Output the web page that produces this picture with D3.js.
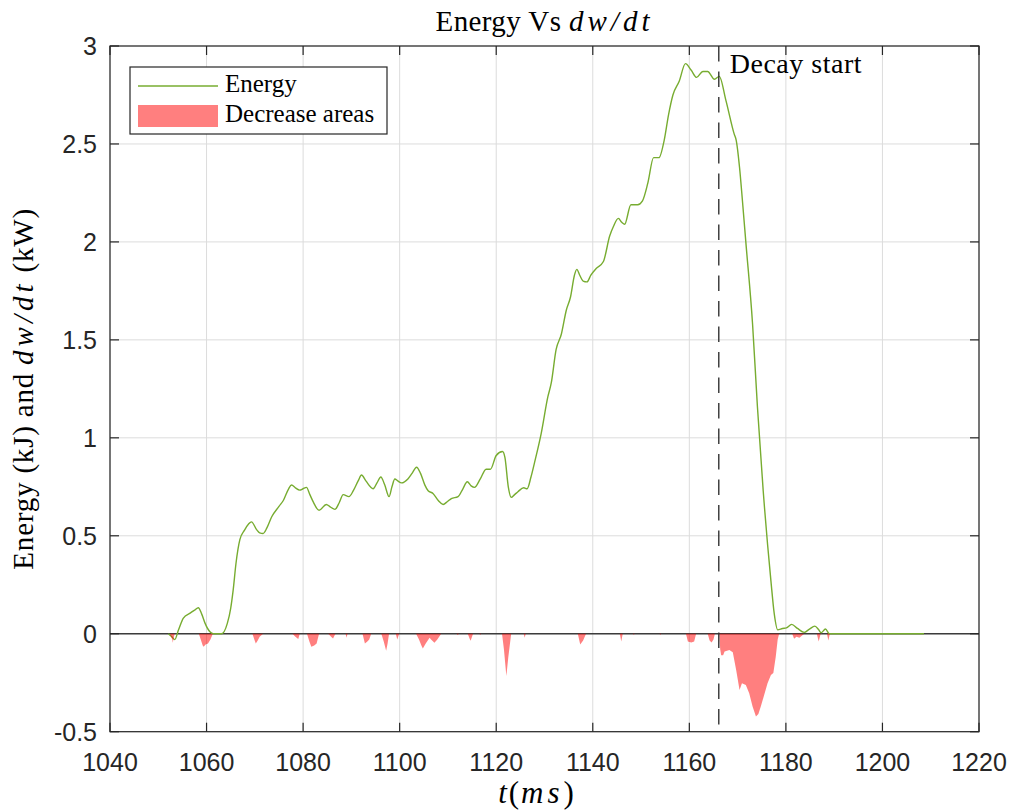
<!DOCTYPE html>
<html>
<head>
<meta charset="utf-8">
<script src="https://cdn.jsdelivr.net/npm/d3@7"></script>
<style>
body { margin: 0; background: #fff; }
svg { display: block; }
</style>
</head>
<body>
<div class="visHolder"></div>
<script>
// energy curve samples (ms, kJ)
var energyT = [1052.1, 1052.8, 1053.4, 1054.2, 1055.2, 1056.6, 1057.5, 1058.3, 1059.0, 1059.7, 1060.7, 1061.4, 1063.1, 1064.3, 1065.0, 1065.5, 1066.1, 1066.9, 1067.9, 1068.7, 1069.3, 1070.4, 1071.0, 1071.7, 1072.5, 1073.5, 1075.0, 1075.9, 1077.0, 1077.6, 1078.4, 1079.3, 1080.0, 1080.7, 1081.4, 1082.1, 1083.3, 1084.8, 1085.6, 1086.6, 1087.5, 1088.3, 1089.5, 1090.4, 1091.4, 1092.1, 1093.0, 1094.5, 1095.3, 1096.1, 1096.9, 1097.8, 1098.4, 1099.0, 1099.6, 1100.4, 1101.7, 1102.6, 1103.5, 1104.3, 1105.2, 1105.9, 1106.9, 1108.0, 1109.0, 1109.9, 1110.7, 1112.1, 1113.1, 1114.0, 1114.8, 1115.5, 1116.7, 1117.9, 1118.8, 1120.0, 1121.3, 1121.8, 1122.5, 1123.1, 1123.8, 1124.5, 1125.7, 1126.4, 1127.2, 1127.9, 1129.3, 1130.7, 1131.4, 1132.4, 1133.5, 1134.5, 1135.4, 1136.2, 1136.7, 1137.3, 1138.0, 1138.8, 1139.6, 1140.7, 1142.2, 1143.5, 1144.3, 1145.3, 1146.0, 1146.6, 1147.9, 1149.3, 1150.3, 1151.4, 1152.6, 1153.7, 1154.8, 1155.7, 1156.6, 1157.9, 1159.2, 1160.4, 1161.5, 1162.8, 1163.8, 1165.2, 1166.2, 1167.6, 1169.3, 1169.7, 1170.4, 1171.0, 1171.7, 1173.1, 1174.1, 1175.3, 1176.9, 1177.6, 1178.3, 1179.3, 1180.1, 1181.2, 1182.4, 1183.8, 1184.8, 1186.0, 1186.8, 1187.3, 1188.2, 1189.0, 1208.6]
var energyV = [0, -0.015, -0.03, 0.02, 0.08, 0.105, 0.12, 0.133, 0.10, 0.053, 0.01, 0, 0, 0.053, 0.13, 0.22, 0.36, 0.48, 0.53, 0.56, 0.571, 0.53, 0.515, 0.512, 0.54, 0.597, 0.65, 0.68, 0.74, 0.759, 0.745, 0.733, 0.74, 0.747, 0.71, 0.673, 0.63, 0.66, 0.648, 0.635, 0.67, 0.71, 0.70, 0.73, 0.78, 0.81, 0.78, 0.74, 0.77, 0.80, 0.76, 0.70, 0.75, 0.79, 0.78, 0.77, 0.79, 0.82, 0.85, 0.82, 0.76, 0.73, 0.716, 0.68, 0.66, 0.675, 0.69, 0.70, 0.74, 0.776, 0.755, 0.747, 0.79, 0.84, 0.84, 0.91, 0.93, 0.90, 0.75, 0.696, 0.71, 0.725, 0.745, 0.74, 0.80, 0.87, 1.02, 1.21, 1.28, 1.45, 1.53, 1.65, 1.72, 1.83, 1.86, 1.83, 1.80, 1.796, 1.83, 1.864, 1.90, 2.03, 2.08, 2.12, 2.10, 2.09, 2.19, 2.19, 2.21, 2.30, 2.43, 2.43, 2.52, 2.65, 2.75, 2.82, 2.91, 2.876, 2.84, 2.87, 2.87, 2.83, 2.845, 2.72, 2.55, 2.52, 2.38, 2.21, 2.0, 1.58, 1.16, 0.73, 0.27, 0.10, 0.02, 0.027, 0.03, 0.048, 0.027, 0.007, 0.022, 0.039, 0.02, 0.005, 0.024, 0, 0]

// negative dw/dt (decrease areas), kW
var decT = [1052.4, 1052.9, 1053.0, 1053.2, 1053.4,
  1058.4, 1058.8, 1059.2, 1059.4, 1059.8, 1060.3, 1060.8, 1061.3,
  1069.5, 1069.9, 1070.2, 1070.6, 1071.0, 1071.7,
  1077.8, 1078.4, 1079.0, 1079.3,
  1080.8, 1081.3, 1081.7, 1082.3, 1082.8, 1083.3,
  1085.2, 1085.8, 1086.2, 1086.7,
  1088.8, 1089.0, 1089.2,
  1092.3, 1092.8, 1093.3, 1093.7, 1094.1,
  1096.2, 1096.7, 1097.2, 1097.5, 1097.8,
  1099.2, 1099.5, 1099.9,
  1103.4, 1104.0, 1104.5, 1104.8, 1105.4, 1106.2, 1106.5, 1107.2, 1107.8, 1108.6,
  1111.8, 1112.0, 1112.3,
  1114.1, 1114.5, 1114.7, 1115.2,
  1116.5, 1116.7, 1116.9,
  1121.2, 1121.6, 1122.1, 1122.5, 1123.1,
  1125.7, 1125.9, 1126.1,
  1136.9, 1137.4, 1138.0, 1138.6,
  1145.6, 1145.9, 1146.2,
  1148.3, 1148.5, 1148.7,
  1153.8, 1154.0, 1154.2,
  1159.3, 1159.7, 1160.4, 1161.0, 1161.4,
  1163.8, 1164.2, 1164.6, 1165.0, 1165.3,
  1166.2, 1166.4, 1166.6, 1167.0, 1167.3, 1168.3, 1169.0, 1169.7, 1170.4, 1170.9, 1171.7, 1172.4, 1173.1, 1173.8, 1174.3, 1174.8, 1175.5, 1176.2, 1176.9, 1177.4, 1177.9, 1178.3, 1178.6,
  1181.3, 1181.7, 1182.2, 1182.8, 1183.3, 1183.8,
  1186.4, 1186.8, 1187.2,
  1188.5, 1188.8, 1189.1]
var decV = [0, -0.03, -0.046, -0.02, 0,
  0, -0.03, -0.06, -0.066, -0.055, -0.05, -0.03, 0,
  0, -0.03, -0.05, -0.035, -0.015, 0,
  0, -0.015, -0.027, 0,
  0, -0.04, -0.066, -0.06, -0.05, 0,
  0, -0.015, -0.024, 0,
  0, -0.02, 0,
  0, -0.05, -0.04, -0.03, 0,
  0, -0.04, -0.087, -0.05, 0,
  0, -0.03, 0,
  0, -0.03, -0.06, -0.075, -0.05, -0.02, -0.03, -0.046, -0.03, 0,
  0, -0.006, 0,
  0, -0.025, -0.036, 0,
  0, -0.005, 0,
  0, -0.08, -0.216, -0.12, 0,
  0, -0.02, 0,
  0, -0.055, -0.035, 0,
  0, -0.04, 0,
  0, -0.005, 0,
  0, -0.005, 0,
  0, -0.04, -0.045, -0.04, 0,
  0, -0.035, -0.045, -0.03, 0,
  0, -0.08, -0.11, -0.11, -0.09, -0.083, -0.095, -0.185, -0.287, -0.253, -0.262, -0.304, -0.372, -0.423, -0.41, -0.372, -0.313, -0.253, -0.21, -0.2, -0.117, -0.03, 0,
  0, -0.025, -0.015, -0.02, -0.01, 0,
  0, -0.04, 0,
  0, -0.035, 0]

var xTicks = [1040, 1060, 1080, 1100, 1120, 1140, 1160, 1180, 1200, 1220]
var yTicks = [-0.5, 0, 0.5, 1, 1.5, 2, 2.5, 3]
var yTickLabels = ["-0.5", "0", "0.5", "1", "1.5", "2", "2.5", "3"]
var decayStart = 1166.1

var W = 1013, H = 812
var mLeft = 110, mTop = 46, mRight = 979, mBottom = 731.7
var axisColor = "#262626"
var energyColor = "#77ac30"
var serif = "'Liberation Serif', 'Times New Roman', serif"
var sans = "'Liberation Sans', Arial, Helvetica, sans-serif"

var svg = d3.select(".visHolder").append("svg")
    .attr("width", W)
    .attr("height", H)

var xScale = d3.scaleLinear().domain([1040, 1220]).range([mLeft, mRight])
var yScale = d3.scaleLinear().domain([-0.5, 3]).range([mBottom, mTop])

// grid
svg.append("g").selectAll("line").data(xTicks).enter().append("line")
    .attr("x1", d => xScale(d)).attr("x2", d => xScale(d))
    .attr("y1", mTop).attr("y2", mBottom)
    .attr("stroke", "#dcdcdc").attr("stroke-width", 1)
svg.append("g").selectAll("line").data(yTicks).enter().append("line")
    .attr("x1", mLeft).attr("x2", mRight)
    .attr("y1", d => yScale(d)).attr("y2", d => yScale(d))
    .attr("stroke", "#dcdcdc").attr("stroke-width", 1)

// zero line
svg.append("line")
    .attr("x1", mLeft).attr("x2", mRight)
    .attr("y1", yScale(0)).attr("y2", yScale(0))
    .attr("stroke", "#3c3c3c").attr("stroke-width", 1.6)

var energyData = energyT.map((t, i) => [t, energyV[i]])
var line = d3.line()
    .x(d => xScale(d[0]))
    .y(d => yScale(d[1]))
    .curve(d3.curveMonotoneX)
svg.append("path")
    .datum(energyData)
    .attr("d", line)
    .attr("fill", "none")
    .attr("stroke", energyColor)
    .attr("stroke-width", 1.4)

var decData = decT.map((t, i) => [t, decV[i]])
var area = d3.area()
    .x(d => xScale(d[0]))
    .y0(yScale(0))
    .y1(d => yScale(d[1]))
svg.append("path")
    .datum(decData)
    .attr("d", area)
    .attr("fill", "#ff0000")
    .attr("fill-opacity", 0.5)
    .attr("stroke", "none")

// decay start marker
svg.append("line")
    .attr("x1", xScale(decayStart)).attr("x2", xScale(decayStart))
    .attr("y1", mTop).attr("y2", mBottom)
    .attr("stroke", "#333")
    .attr("stroke-width", 1.4)
    .attr("stroke-dasharray", "15.5,10")
svg.append("text")
    .attr("x", xScale(decayStart) + 11)
    .attr("y", 73)
    .style("font-family", serif)
    .style("font-size", "28px")
    .style("letter-spacing", "0.5px")
    .attr("fill", "#000")
    .text("Decay start")

// axes box with inward ticks on all sides
svg.append("rect")
    .attr("x", mLeft).attr("y", mTop)
    .attr("width", mRight - mLeft).attr("height", mBottom - mTop)
    .attr("fill", "none").attr("stroke", axisColor).attr("stroke-width", 1.2)

var tickLen = 9
var ticks = svg.append("g").attr("stroke", axisColor).attr("stroke-width", 1.2)
xTicks.forEach(function(d) {
    ticks.append("line").attr("x1", xScale(d)).attr("x2", xScale(d)).attr("y1", mBottom).attr("y2", mBottom - tickLen)
    ticks.append("line").attr("x1", xScale(d)).attr("x2", xScale(d)).attr("y1", mTop).attr("y2", mTop + tickLen)
})
yTicks.forEach(function(d) {
    ticks.append("line").attr("x1", mLeft).attr("x2", mLeft + tickLen).attr("y1", yScale(d)).attr("y2", yScale(d))
    ticks.append("line").attr("x1", mRight).attr("x2", mRight - tickLen).attr("y1", yScale(d)).attr("y2", yScale(d))
})

svg.append("g").selectAll("text").data(xTicks).enter().append("text")
    .attr("x", d => xScale(d))
    .attr("y", mBottom + 39)
    .attr("text-anchor", "middle")
    .style("font-family", sans)
    .style("font-size", "25px")
    .attr("fill", axisColor)
    .text(d => d)

svg.append("g").selectAll("text").data(yTicks).enter().append("text")
    .attr("x", mLeft - 13)
    .attr("y", d => yScale(d))
    .attr("dy", "0.36em")
    .attr("text-anchor", "end")
    .style("font-family", sans)
    .style("font-size", "25px")
    .attr("fill", axisColor)
    .text((d, i) => yTickLabels[i])

// title and labels
var title = svg.append("text")
    .attr("x", (mLeft + mRight) / 2)
    .attr("y", 31)
    .attr("text-anchor", "middle")
    .style("font-family", serif)
    .style("font-size", "29px")
    .style("letter-spacing", "0.4px")
    .attr("fill", "#000")
title.append("tspan").text("Energy Vs ")
title.append("tspan").style("font-style", "italic").style("letter-spacing", "4px").text("dw/dt")

var xLabel = svg.append("text")
    .attr("x", 536)
    .attr("y", 803)
    .attr("text-anchor", "middle")
    .style("font-family", serif)
    .style("font-size", "31px")
    .attr("fill", "#000")
xLabel.append("tspan").style("font-style", "italic").style("letter-spacing", "2px").text("t")
xLabel.append("tspan").style("letter-spacing", "2px").text("(")
xLabel.append("tspan").style("font-style", "italic").style("letter-spacing", "4px").text("ms")
xLabel.append("tspan").text(")")

var yLabel = svg.append("text")
    .attr("transform", "translate(33," + ((mTop + mBottom) / 2) + ") rotate(-90)")
    .attr("text-anchor", "middle")
    .style("font-family", serif)
    .style("font-size", "29px")
    .style("letter-spacing", "0.8px")
    .attr("fill", "#000")
yLabel.append("tspan").text("Energy (kJ) and ")
yLabel.append("tspan").style("font-style", "italic").style("letter-spacing", "4px").text("dw/dt")
yLabel.append("tspan").text(" (kW)")

// legend
var legend = svg.append("g")
legend.append("rect")
    .attr("x", 130).attr("y", 67)
    .attr("width", 257).attr("height", 67)
    .attr("fill", "#fff").attr("stroke", axisColor).attr("stroke-width", 1.2)
legend.append("line")
    .attr("x1", 138).attr("x2", 218).attr("y1", 86).attr("y2", 86)
    .attr("stroke", energyColor).attr("stroke-width", 1.4)
legend.append("rect")
    .attr("x", 138).attr("y", 105).attr("width", 80).attr("height", 22)
    .attr("fill", "#ff0000").attr("fill-opacity", 0.5)
legend.append("text")
    .attr("x", 225).attr("y", 92)
    .style("font-family", serif).style("font-size", "25px")
    .attr("fill", "#000")
    .text("Energy")
legend.append("text")
    .attr("x", 225).attr("y", 122)
    .style("font-family", serif).style("font-size", "25px")
    .attr("fill", "#000")
    .text("Decrease areas")
</script>
</body>
</html>
